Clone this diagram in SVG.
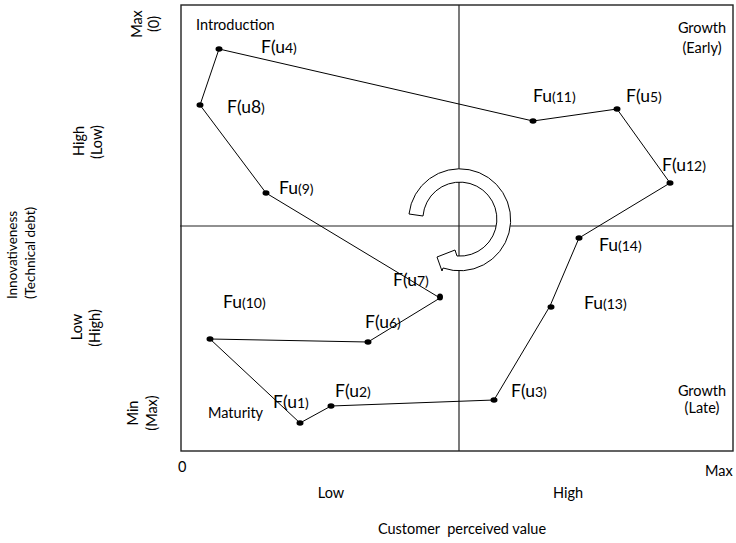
<svg xmlns="http://www.w3.org/2000/svg" width="736" height="543" viewBox="0 0 736 543">
<style>
text{font-family:Lato,"Liberation Sans",sans-serif;fill:#000}
.lab{font-size:14.5px}
.b{font-size:17.5px}
.s{font-size:14px}
.frame{fill:none;stroke:#222;stroke-width:1.4}
.axis{stroke:#222;stroke-width:1.2;fill:none}
.conn{fill:none;stroke:#000;stroke-width:1}
.dot{fill:#000}
</style>
<rect id="frame" class="frame" x="181" y="5" width="552" height="446"/>
<g id="quadrant-lines">
<line class="axis" x1="180" y1="226" x2="733" y2="226"/>
<line class="axis" x1="459" y1="5" x2="459" y2="451"/>
</g>
<g id="connectors">
<path class="conn" d="M219,49 L533,121 L617,109 L670,183 L579,238 L550,306 L494,400 L331,406 L300,423 L210,339 L368,342 L440,298 L266,193 L200,105 Z"/>
</g>
<g id="cycle-arrow">
<path d="M409,214 A51,51 0 1 1 443,268 L442,271 L437,257 L455,250 L457,256 A37,37 0 1 0 423,216 Z" fill="#fff" stroke="#000" stroke-width="1"/>
</g>
<g id="n-u4"><ellipse class="dot" cx="219" cy="49" rx="3.5" ry="2.7"/><text x="261" y="53"><tspan class="b">F(u</tspan><tspan class="s">4)</tspan></text></g>
<g id="n-u11"><ellipse class="dot" cx="533" cy="121" rx="3.5" ry="2.7"/><text x="533" y="102"><tspan class="b">Fu</tspan><tspan class="s">(11)</tspan></text></g>
<g id="n-u5"><ellipse class="dot" cx="617" cy="109" rx="3.5" ry="2.7"/><text x="626" y="102"><tspan class="b">F(u</tspan><tspan class="s">5)</tspan></text></g>
<g id="n-u12"><ellipse class="dot" cx="670" cy="183" rx="3.5" ry="2.7"/><text x="662" y="171"><tspan class="b">F(u</tspan><tspan class="s">12)</tspan></text></g>
<g id="n-u14"><ellipse class="dot" cx="579" cy="238" rx="3.5" ry="2.7"/><text x="599" y="251"><tspan class="b">Fu</tspan><tspan class="s">(14)</tspan></text></g>
<g id="n-u13"><ellipse class="dot" cx="551" cy="307" rx="3.5" ry="2.7"/><text x="584" y="309"><tspan class="b">Fu</tspan><tspan class="s">(13)</tspan></text></g>
<g id="n-u3"><ellipse class="dot" cx="494" cy="400" rx="3.5" ry="2.7"/><text x="511" y="397"><tspan class="b">F(u</tspan><tspan class="s">3)</tspan></text></g>
<g id="n-u2"><ellipse class="dot" cx="331" cy="406" rx="3.5" ry="2.7"/><text x="335" y="397"><tspan class="b">F(u</tspan><tspan class="s">2)</tspan></text></g>
<g id="n-u1"><ellipse class="dot" cx="300" cy="423" rx="3.5" ry="2.7"/><text x="273" y="408"><tspan class="b">F(u</tspan><tspan class="s">1)</tspan></text></g>
<g id="n-u10"><ellipse class="dot" cx="210" cy="339" rx="3.5" ry="2.7"/><text x="223" y="308"><tspan class="b">Fu</tspan><tspan class="s">(10)</tspan></text></g>
<g id="n-u6"><ellipse class="dot" cx="368" cy="342" rx="3.5" ry="2.7"/><text x="365" y="328"><tspan class="b">F(u</tspan><tspan class="s">6)</tspan></text></g>
<g id="n-u7"><ellipse class="dot" cx="440" cy="297" rx="3" ry="3.5"/><text x="393" y="286"><tspan class="b">F(u</tspan><tspan class="s">7)</tspan></text></g>
<g id="n-u9"><ellipse class="dot" cx="266" cy="193" rx="3.5" ry="2.7"/><text x="279" y="194"><tspan class="b">Fu</tspan><tspan class="s">(9)</tspan></text></g>
<g id="n-u8"><ellipse class="dot" cx="200" cy="105" rx="3.5" ry="2.7"/><text x="227" y="113"><tspan class="b">F(u8</tspan><tspan class="s">)</tspan></text></g>
<g id="quadrant-labels" class="lab">
<text x="196" y="30">Introduction</text>
<text x="702" y="33" text-anchor="middle">Growth</text>
<text x="702" y="53" text-anchor="middle">(Early)</text>
<text x="702" y="396" text-anchor="middle">Growth</text>
<text x="702" y="413" text-anchor="middle">(Late)</text>
<text x="208" y="418">Maturity</text>
</g>
<g id="y-axis-labels" class="lab">
<text transform="translate(142,24) rotate(-90)" text-anchor="middle">Max</text>
<text transform="translate(159,24) rotate(-90)" text-anchor="middle">(0)</text>
<text transform="translate(84,141) rotate(-90)" text-anchor="middle">High</text>
<text transform="translate(102,142) rotate(-90)" text-anchor="middle">(Low)</text>
<text transform="translate(82,327) rotate(-90)" text-anchor="middle">Low</text>
<text transform="translate(100,328) rotate(-90)" text-anchor="middle">(High)</text>
<text transform="translate(138,413) rotate(-90)" text-anchor="middle">Min</text>
<text transform="translate(157,413) rotate(-90)" text-anchor="middle">(Max)</text>
<text transform="translate(17,255) rotate(-90)" text-anchor="middle" style="font-size:13.5px">Innovativeness</text>
<text transform="translate(35,253) rotate(-90)" text-anchor="middle" style="font-size:13.5px">(Technical debt)</text>
</g>
<g id="x-axis-labels" class="lab">
<text x="178" y="472">0</text>
<text x="705" y="476">Max</text>
<text x="331" y="498" text-anchor="middle">Low</text>
<text x="568" y="498" text-anchor="middle">High</text>
<text x="462" y="534" text-anchor="middle" xml:space="preserve">Customer  perceived value</text>
</g>
</svg>
